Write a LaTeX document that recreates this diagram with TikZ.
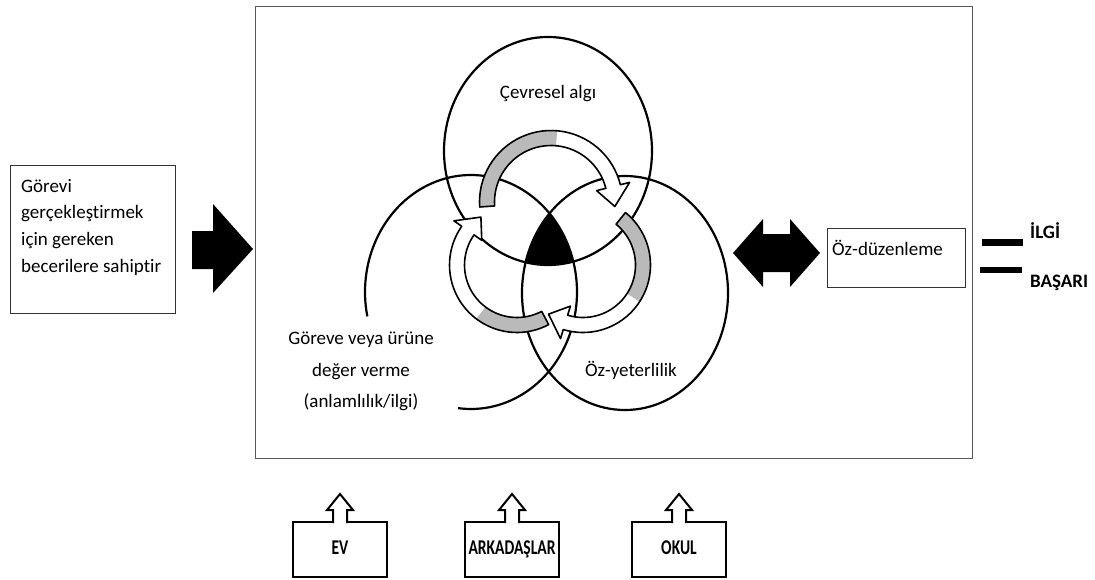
\documentclass[tikz,border=0pt]{standalone}
\usepackage{fontspec}
\setmainfont{Carlito}[Ligatures=NoCommon]
\newfontfamily\srcfont{Carlito}[FakeStretch=0.74,Ligatures=NoCommon]

% curved cycle arrows: half band width and half head width
\def\cyw{7.5}
\def\cyh{17}
% #1,#2 centre, #3 radius, #4 tail angle, #5 head base angle, #6 tip angle, #7 path options
\newcommand\cycpath[7]{%
  \path[#7] plot[domain=#4:#5,samples=40] ({#1+(#3+\cyw)*cos(\x)},{#2+(#3+\cyw)*sin(\x)})
    -- ({#1+(#3+\cyh)*cos(#5)},{#2+(#3+\cyh)*sin(#5)})
    -- ({#1+#3*cos(#6)},{#2+#3*sin(#6)})
    -- ({#1+(#3-\cyh)*cos(#5)},{#2+(#3-\cyh)*sin(#5)})
    -- plot[domain=#5:#4,samples=40] ({#1+(#3-\cyw)*cos(\x)},{#2+(#3-\cyw)*sin(\x)})
    -- cycle;}
% grey tail part of a cycle arrow
\newcommand\cycband[5]{%
  \fill[cyfill] plot[domain=#4:#5,samples=30] ({#1+(#3+\cyw)*cos(\x)},{#2+(#3+\cyw)*sin(\x)})
    -- plot[domain=#5:#4,samples=30] ({#1+(#3-\cyw)*cos(\x)},{#2+(#3-\cyw)*sin(\x)}) -- cycle;}
% one cycle arrow: white body, grey tail, outline
\newcommand\cycarrow[7]{%
  \cycpath{#1}{#2}{#3}{#4}{#5}{#6}{fill=white}
  \cycband{#1}{#2}{#3}{#4}{#7}
  \cycpath{#1}{#2}{#3}{#4}{#5}{#6}{draw,line width=1.6pt,line join=round}}
% source box with an up arrow on its top edge
\newcommand\srcbox[3]{%
  \node[srcnode] (#1) at (#2,549.5) {#3};
  \fill[white] (#2-6,519.5) rectangle (#2+6,523.5);
  \draw[line width=2pt,fill=white,line join=miter] (#2-7,523) -- (#2-7,510) -- (#2-13,510) -- (#2,494)
    -- (#2+13,510) -- (#2+7,510) -- (#2+7,523);}

\begin{document}
\begin{tikzpicture}[x=1pt,y=-1pt,
  cyfill/.style={fill=black!27},
  venn/.style={line width=2.2pt},
  panel/.style={draw=black!65,line width=1pt,inner sep=0pt},
  plainbox/.style={draw=black!80,line width=1pt,inner sep=0pt},
  lbl/.style={font=\fontsize{19}{23}\selectfont,inner sep=0pt},
  bold/.style={font=\bfseries\fontsize{19}{22}\selectfont,inner sep=0pt},
  srcnode/.style={draw,line width=2pt,minimum width=94pt,minimum height=55pt,inner sep=0pt,
    text height=13.5pt,text depth=3pt,
    font=\srcfont\bfseries\fontsize{21}{22}\selectfont}]
\useasboundingbox (0,0) rectangle (1095,579);
\fill[white] (0,0) rectangle (1095,579);

% outer panel
\node[panel,minimum width=717pt,minimum height=452pt,anchor=north west] (panelbox) at (255,6) {};

% skills box and its arrow
\node[plainbox,minimum width=165pt,minimum height=148pt,anchor=north west] (skills) at (10,165) {};
\node[lbl,align=left,anchor=north west,font=\fontsize{19}{26.6}\selectfont] (skillstext) at (21,179)
  {Görevi\\gerçekleştirmek\\için gereken\\becerilere sahiptir};
\fill (192,231) -- (213,231) -- (213,204) -- (253,249) -- (213,293) -- (213,269) -- (192,269) -- cycle;

% Venn circles
\draw[venn] (548,151) ellipse [x radius=104pt,y radius=114pt];
\draw[venn] (625,293) ellipse [x radius=103pt,y radius=117pt];
\draw[venn] plot[domain=168:457,samples=120] ({471+106*cos(\x)},{292+117*sin(\x)});
\begin{scope}
  \clip (548,151) ellipse [x radius=104pt,y radius=114pt];
  \clip (471,292) ellipse [x radius=106pt,y radius=117pt];
  \fill (625,293) ellipse [x radius=103pt,y radius=117pt];
\end{scope}

% cycle arrows
\cycarrow{517}{265}{60}{62}{215}{233}{127}
\cycarrow{551}{202}{64}{176}{346}{364}{275}
\cycarrow{583}{265}{60}{309}{467}{485}{393}

% labels of the circles
\node[lbl] (envlabel) at (548,94) {Çevresel algı};
\node[lbl] (efflabel) at (631,370) {Öz-yeterlilik};
\node[lbl,align=center,anchor=north,font=\fontsize{19}{31.5}\selectfont] (vallabel) at (361,332)
  {Göreve veya ürüne\\değer verme\\(anlamlılık/ilgi)};

% self-regulation
\fill (733,253) -- (763,219) -- (763,234) -- (790,234) -- (790,219) -- (820,253)
  -- (790,287) -- (790,272) -- (763,272) -- (763,287) -- cycle;
\node[plainbox,minimum width=138pt,minimum height=59pt,anchor=north west] (selfreg) at (827,228) {};
\node[lbl,anchor=base west] (selfregtext) at (832,255) {Öz-düzenleme};

% result
\fill (982,239) rectangle (1023,246);
\fill (980,267) rectangle (1022,273);
\node[bold,anchor=base west] (interest) at (1030,238) {İLGİ};
\node[bold,anchor=base west] (success) at (1030,287) {BAŞARI};

% sources
\srcbox{home}{340}{EV}
\srcbox{friends}{512}{ARKADAŞLAR}
\srcbox{school}{679}{OKUL}
\end{tikzpicture}
\end{document}
